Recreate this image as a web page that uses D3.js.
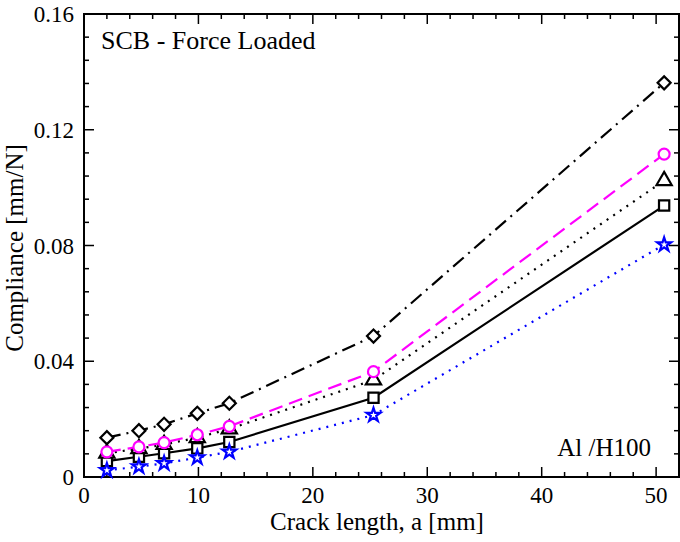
<!DOCTYPE html>
<html>
<head>
<meta charset="utf-8">
<script src="https://cdn.jsdelivr.net/npm/d3@7"></script>
<style>
    body { margin: 0; background: #fff; }
</style>
</head>
<body>
<svg id="chart" width="680" height="542"></svg>
<script>
// crack length a [mm]
const crackLength = [2, 4.8, 7, 9.9, 12.7, 25.3, 50.7]

const diamondSeries  = [0.0136, 0.0160, 0.0182, 0.0220, 0.0255, 0.0487, 0.1362]
const circleSeries   = [0.0087, 0.0104, 0.0119, 0.0146, 0.0175, 0.0364, 0.1116]
const triangleSeries = [0.0082, 0.0098, 0.0112, 0.0136, 0.0166, 0.0335, 0.1024]
const squareSeries   = [0.0055, 0.0070, 0.0082, 0.0099, 0.0121, 0.0274, 0.0938]
const starSeries     = [0.0023, 0.0036, 0.0047, 0.0067, 0.0087, 0.0214, 0.0803]

const xTicks = [0, 10, 20, 30, 40, 50]
const yTicks = [0, 0.04, 0.08, 0.12, 0.16]

const series = [
    { values: squareSeries,   color: '#000', dash: null,      width: 2.2, symbol: 'square' },
    { values: starSeries,     color: '#0000ff', dash: '2,6',  width: 2.2, symbol: 'star' },
    { values: triangleSeries, color: '#000', dash: '2,6',     width: 2.2, symbol: 'triangle' },
    { values: circleSeries,   color: '#ff00ff', dash: '14,7', width: 2.2, symbol: 'circle' },
    { values: diamondSeries,  color: '#000', dash: '14,6,2,6', width: 2.2, symbol: 'diamond' },
]

const FONT = '"Liberation Serif", "Times New Roman", Tinos, "DejaVu Serif", serif'
const plotLeft = 84, plotRight = 679, plotTop = 14, plotBottom = 477

const svg = d3.select('#chart')
    .attr('font-family', FONT)

const x = d3.scaleLinear().domain([0, 52]).range([plotLeft, plotRight])
const y = d3.scaleLinear().domain([0, 0.16]).range([plotBottom, plotTop])

const xMinor = d3.range(0, 52.01, 2)
const yMinor = d3.range(0, 0.1601, 0.008)

// frame
svg.append('rect')
    .attr('x', plotLeft).attr('y', plotTop)
    .attr('width', plotRight - plotLeft).attr('height', plotBottom - plotTop)
    .attr('fill', 'none').attr('stroke', '#000').attr('stroke-width', 2)

// ticks on all four sides, pointing inward
const tickG = svg.append('g').attr('stroke', '#000').attr('stroke-width', 1.5)
const isMajorX = (v) => Math.abs(v % 10) < 1e-6
const isMajorY = (v) => Math.abs(Math.round(v / 0.04) * 0.04 - v) < 1e-6

xMinor.forEach((v) => {
    const len = isMajorX(v) ? 10 : 5
    tickG.append('line').attr('x1', x(v)).attr('x2', x(v)).attr('y1', plotBottom).attr('y2', plotBottom - len)
    tickG.append('line').attr('x1', x(v)).attr('x2', x(v)).attr('y1', plotTop).attr('y2', plotTop + len)
})
yMinor.forEach((v) => {
    const len = isMajorY(v) ? 10 : 5
    tickG.append('line').attr('x1', plotLeft).attr('x2', plotLeft + len).attr('y1', y(v)).attr('y2', y(v))
    tickG.append('line').attr('x1', plotRight).attr('x2', plotRight - len).attr('y1', y(v)).attr('y2', y(v))
})

// tick labels
svg.append('g').selectAll('text')
    .data(xTicks)
    .enter()
    .append('text')
    .attr('x', (d) => x(d))
    .attr('y', plotBottom + 26)
    .attr('text-anchor', 'middle')
    .attr('font-size', 23)
    .text((d) => d)

svg.append('g').selectAll('text')
    .data(yTicks)
    .enter()
    .append('text')
    .attr('x', plotLeft - 10)
    .attr('y', (d) => y(d) + 8)
    .attr('text-anchor', 'end')
    .attr('font-size', 23)
    .text((d) => d === 0 ? '0' : d.toFixed(2))

// axis titles
svg.append('text')
    .attr('x', 377)
    .attr('y', 530)
    .attr('text-anchor', 'middle')
    .attr('font-size', 25)
    .text('Crack length, a [mm]')

svg.append('text')
    .attr('transform', 'translate(23, 248) rotate(-90)')
    .attr('text-anchor', 'middle')
    .attr('font-size', 25)
    .text('Compliance [mm/N]')

// annotations
svg.append('text')
    .attr('x', 101).attr('y', 49)
    .attr('font-size', 26)
    .text('SCB - Force Loaded')

svg.append('text')
    .attr('x', 651).attr('y', 456)
    .attr('text-anchor', 'end')
    .attr('font-size', 25)
    .text('Al /H100')

// lines
const line = d3.line()
    .x((d, i) => x(crackLength[i]))
    .y((d) => y(d))

svg.append('g').selectAll('path')
    .data(series)
    .enter()
    .append('path')
    .attr('d', (d) => line(d.values))
    .attr('fill', 'none')
    .attr('stroke', (d) => d.color)
    .attr('stroke-width', (d) => d.width)
    .attr('stroke-dasharray', (d) => d.dash)

// markers
const symbols = {
    square: { sym: d3.symbol().type(d3.symbolSquare).size(105), rot: 0 },
    star: { sym: d3.symbol().type(d3.symbolStar).size(60), rot: 0 },
    triangle: { sym: d3.symbol().type(d3.symbolTriangle).size(100), rot: 0 },
    circle: { sym: d3.symbol().type(d3.symbolCircle).size(95), rot: 0 },
    diamond: { sym: d3.symbol().type(d3.symbolSquare).size(85), rot: 45 },
}

series.forEach((s) => {
    const m = symbols[s.symbol]
    svg.append('g').selectAll('path')
        .data(s.values)
        .enter()
        .append('path')
        .attr('transform', (d, i) => `translate(${x(crackLength[i])},${y(d)}) rotate(${m.rot})`)
        .attr('d', m.sym())
        .attr('fill', '#fff')
        .attr('stroke', s.color)
        .attr('stroke-width', 2.2)
})
</script>
</body>
</html>
